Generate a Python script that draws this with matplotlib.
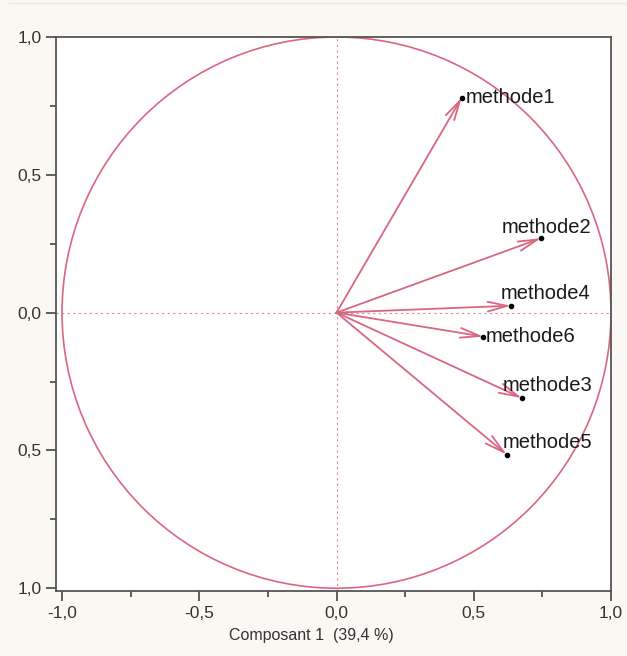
import numpy as np
import matplotlib
matplotlib.use("Agg")
import matplotlib.pyplot as plt
from matplotlib.patches import Circle
from matplotlib.lines import Line2D
from matplotlib.ticker import MultipleLocator, FixedLocator

plt.rcParams['font.family'] = ['Liberation Sans', 'DejaVu Sans']

# correlation circle data (loadings on component 1 / 2)
methods = ["methode1", "methode2", "methode4", "methode6", "methode3", "methode5"]
comp1 = [0.456, 0.745, 0.635, 0.535, 0.675, 0.62]
comp2 = [0.78, 0.27, 0.025, -0.087, -0.31, -0.515]
xticks = [-1.0, -0.5, 0.0, 0.5, 1.0]
xtick_labels = ["-1,0", "-0,5", "0,0", "0,5", "1,0"]
ytick_labels = ["1,0", "0,5", "0,0", "0,5", "1,0"]
xlabel = "Composant 1  (39,4 %)"

pink = "#d9677f"
bg = "#fbf8f3"

fig = plt.figure(figsize=(6.27, 6.56), dpi=100, facecolor=bg)
ax = fig.add_axes([0.0893, 0.0991, 0.8852, 0.8445])
ax.set_facecolor("white")

ax.set_xlim(-1.022, 1.0)
ax.set_ylim(-1.01, 1.0)

ax.add_patch(Circle((0, 0), 1.0, fill=False, edgecolor=pink, lw=1.2))
ax.axhline(0, color=pink, lw=0.8, ls=(0, (2, 3)), alpha=0.8)
ax.axvline(0, color=pink, lw=0.8, ls=(0, (2, 3)), alpha=0.8)

# label placement: (dx, dy) in points, left aligned
offsets = {
    "methode1": (3, 0),
    "methode2": (-28, 8),
    "methode4": (-7, 9),
    "methode6": (2, 0),
    "methode3": (-14, 9),
    "methode5": (-3, 9),
}

for name, x, y in zip(methods, comp1, comp2):
    ax.annotate("", xy=(x, y), xytext=(0, 0),
                arrowprops=dict(arrowstyle="->,head_length=1.4,head_width=0.35",
                                color=pink, lw=1.3, shrinkA=0, shrinkB=0))
    ax.plot(x, y, "o", color="black", ms=3, zorder=5)
    dx, dy = offsets[name]
    ax.annotate(name, xy=(x, y), xytext=(dx, dy), textcoords="offset points",
                ha="left", va="center", fontsize=14.5, color="#1a1a1a")

ax.xaxis.set_major_locator(FixedLocator(xticks))
ax.set_xticklabels(xtick_labels)
ax.yaxis.set_major_locator(FixedLocator(xticks))
ax.set_yticklabels(ytick_labels[::-1])
ax.xaxis.set_minor_locator(MultipleLocator(0.25))
ax.yaxis.set_minor_locator(MultipleLocator(0.25))
ax.tick_params(which="major", direction="out", length=7, width=1.2,
               colors="#444444", labelsize=12.5, labelcolor="#333333")
ax.tick_params(which="minor", direction="out", length=4, width=1.2, colors="#444444")
for s in ax.spines.values():
    s.set_color("#555555")
    s.set_linewidth(1.3)

ax.set_xlabel(xlabel, fontsize=11.5, color="#333333")
ax.xaxis.set_label_coords(0.46, -0.066)

fig.add_artist(Line2D([0.015, 1.0], [0.995, 0.995], transform=fig.transFigure,
                      color="#ebe8e3", lw=1))

fig.savefig("out.png", dpi=100, facecolor=bg)
